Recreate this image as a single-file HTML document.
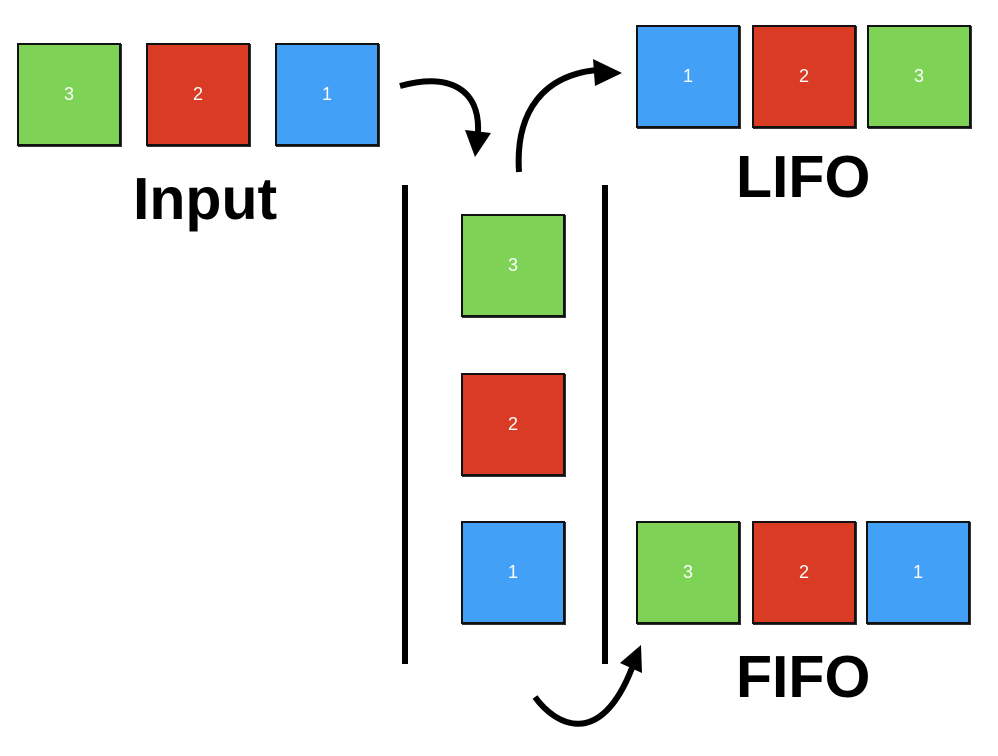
<!DOCTYPE html>
<html><head><style>
body{margin:0;background:#fff;}
.c{position:relative;width:998px;height:756px;overflow:hidden;font-family:"Liberation Sans",sans-serif;}
.b{position:absolute;width:100px;height:99px;border:2px solid #111;box-shadow:1px 1px 0 #333;color:#fff;font-size:18px;display:flex;align-items:center;justify-content:center;}
.g{background:#7ed357}.r{background:#d93b25}.u{background:#42a1f7}
.t{position:absolute;font-weight:bold;font-size:59px;color:#000;line-height:1;}
</style></head><body><div class="c">
<div class="b g" style="left:17px;top:43px">3</div>
<div class="b r" style="left:146px;top:43px">2</div>
<div class="b u" style="left:275px;top:43px">1</div>
<div class="b u" style="left:636px;top:25px">1</div>
<div class="b r" style="left:752px;top:25px">2</div>
<div class="b g" style="left:867px;top:25px">3</div>
<div class="b g" style="left:461px;top:214px">3</div>
<div class="b r" style="left:461px;top:373px">2</div>
<div class="b u" style="left:461px;top:521px">1</div>
<div class="b g" style="left:636px;top:521px">3</div>
<div class="b r" style="left:752px;top:521px">2</div>
<div class="b u" style="left:866px;top:521px">1</div>
<div class="t" style="left:133px;top:170px">Input</div>
<div class="t" style="left:736px;top:148px">LIFO</div>
<div class="t" style="left:736px;top:648px">FIFO</div>
<svg width="998" height="756" style="position:absolute;left:0;top:0">
<g stroke="#000" stroke-width="6" fill="none">
<line x1="405" y1="185" x2="405" y2="664"/>
<line x1="605" y1="185" x2="605" y2="664"/>
<path d="M400 86 C450 72 480 90 478 132"/>
<path d="M519 172 C515 110 545 75 597 70"/>
<path d="M535 697 C555 725 600 750 632 668"/>
</g>
<g fill="#000">
<polygon points="465,130 491,133 475,157"/>
<polygon points="593,59 595,86 622,73"/>
<polygon points="620,663 642,673 641,645"/>
</g>
</svg>
</div></body></html>
